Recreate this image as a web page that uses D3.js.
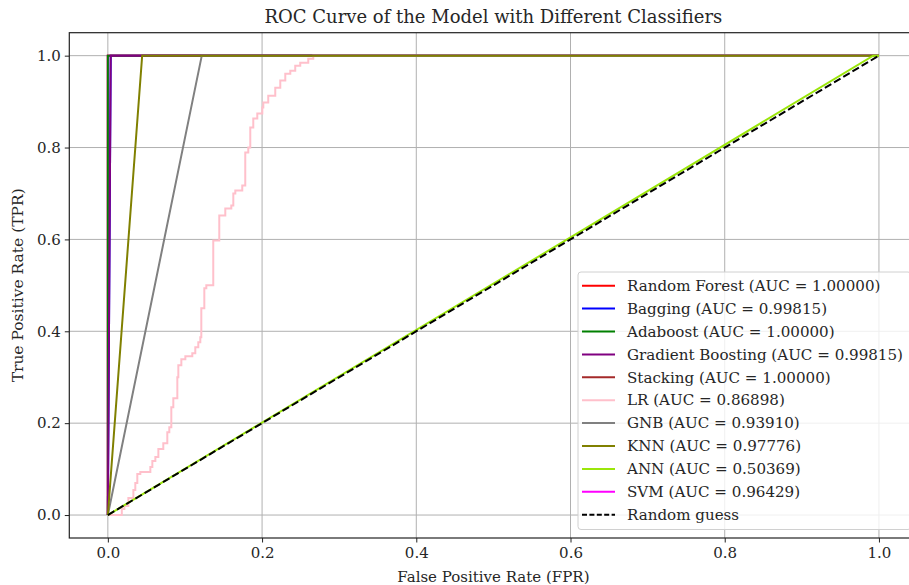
<!DOCTYPE html>
<html>
<head>
<meta charset="utf-8">
<script src="https://cdn.jsdelivr.net/npm/d3@7"></script>
<style>
  body { margin: 0; background: #fff; }
  text { font-family: "DejaVu Serif", serif; fill: #262626; }
</style>
</head>
<body>
<div id="chart"></div>
<script>
// Classifiers in legend order
const names = ["Random Forest", "Bagging", "Adaboost", "Gradient Boosting", "Stacking",
               "LR", "GNB", "KNN", "ANN", "SVM"];
const aucs = [1.00000, 0.99815, 1.00000, 0.99815, 1.00000, 0.86898, 0.93910, 0.97776, 0.50369, 0.96429];
const colors = ["red", "blue", "green", "purple", "brown", "pink", "gray", "olive", "#9be60a", "magenta"];

// ROC points [fpr, tpr]
const rfRoc = [[0, 0], [0, 1], [1, 1]];
const baggingRoc = [[0, 0], [0.0037, 1], [1, 1]];
const adaRoc = [[0, 0], [0, 1], [1, 1]];
const gbRoc = [[0, 0], [0.0037, 1], [1, 1]];
const stackRoc = [[0, 0], [0, 1], [1, 1]];
const gnbRoc = [[0, 0], [0.1218, 1], [1, 1]];
const knnRoc = [[0, 0], [0.0445, 1], [1, 1]];
const annRoc = [[0, 0], [0.9926, 1], [1, 1]];
const svmRoc = [[0, 0], [0, 1], [1, 1]];

// LR is a staircase: move right to fpr, then up to tpr
const lrFpr = [0, 0.0181, 0.0214, 0.0266, 0.0331, 0.0356, 0.0382, 0.0421, 0.0551, 0.0577, 0.0616,
  0.0655, 0.0719, 0.0771, 0.0797, 0.0823, 0.0849, 0.0901, 0.0914, 0.0953, 0.1005, 0.1095, 0.1134,
  0.1173, 0.1199, 0.1212, 0.1251, 0.1277, 0.1367, 0.1445, 0.1523, 0.1601, 0.1627, 0.1653, 0.1743,
  0.1782, 0.1821, 0.1847, 0.1886, 0.1938, 0.2003, 0.2016, 0.2080, 0.2171, 0.2236, 0.2301, 0.2366,
  0.2430, 0.2495, 0.2599, 0.2664, 1];
const lrTpr = [0, 0.0130, 0.0196, 0.0370, 0.0543, 0.0696, 0.0891, 0.0935, 0.1043, 0.1174, 0.1261,
  0.1435, 0.1565, 0.1804, 0.1913, 0.2348, 0.2543, 0.3000, 0.3261, 0.3391, 0.3457, 0.3522, 0.3652,
  0.3761, 0.3870, 0.4500, 0.4935, 0.5000, 0.5978, 0.6522, 0.6674, 0.6739, 0.7000, 0.7065, 0.7174,
  0.7891, 0.8000, 0.8435, 0.8630, 0.8739, 0.8870, 0.8978, 0.9130, 0.9304, 0.9457, 0.9609, 0.9674,
  0.9783, 0.9848, 0.9935, 1.0000, 1];
const lrRoc = lrFpr.map((f, i) => [f, lrTpr[i]]);

const rocs = [rfRoc, baggingRoc, adaRoc, gbRoc, stackRoc, lrRoc, gnbRoc, knnRoc, annRoc, svmRoc];
// Stacking and SVM sit underneath the others in the picture
const drawOrder = [0, 1, 4, 9, 2, 3, 5, 6, 7, 8];

const ticks = [0, 0.2, 0.4, 0.6, 0.8, 1.0];

// Dimensions
const width = 909;
const height = 585;
const pLeft = 69.3, pRight = 917.5, pTop = 32.7, pBottom = 538;

const svg = d3.select("#chart")
    .append("svg")
    .attr("width", width)
    .attr("height", height);

const x = d3.scaleLinear().domain([-0.05, 1.05]).range([pLeft, pRight]);
const y = d3.scaleLinear().domain([-0.05, 1.05]).range([pBottom, pTop]);

// Grid
const grid = svg.append("g").attr("stroke", "#b0b0b0").attr("stroke-width", 1);
grid.selectAll(".gx").data(ticks).enter().append("line")
    .attr("x1", d => x(d)).attr("x2", d => x(d))
    .attr("y1", pTop).attr("y2", pBottom);
grid.selectAll(".gy").data(ticks).enter().append("line")
    .attr("x1", pLeft).attr("x2", pRight)
    .attr("y1", d => y(d)).attr("y2", d => y(d));

svg.append("clipPath").attr("id", "plot")
    .append("rect").attr("x", pLeft).attr("y", pTop)
    .attr("width", pRight - pLeft).attr("height", pBottom - pTop);

// ROC curves
const line = d3.line().x(d => x(d[0])).y(d => y(d[1]));
const stepLine = d3.line().x(d => x(d[0])).y(d => y(d[1])).curve(d3.curveStepAfter);

const curves = svg.append("g").attr("clip-path", "url(#plot)");
drawOrder.forEach(i => {
    curves.append("path")
        .attr("d", names[i] === "LR" ? stepLine(rocs[i]) : line(rocs[i]))
        .attr("fill", "none")
        .attr("stroke", colors[i])
        .attr("stroke-width", 2);
});

// Random guess diagonal
curves.append("path")
    .attr("d", line([[0, 0], [1, 1]]))
    .attr("fill", "none")
    .attr("stroke", "black")
    .attr("stroke-width", 2)
    .attr("stroke-dasharray", "7.5,3.2");

// Axes
const xAxis = svg.append("g")
    .attr("transform", `translate(0,${pBottom})`)
    .call(d3.axisBottom(x).tickValues(ticks).tickFormat(d3.format(".1f")).tickSize(4.5).tickPadding(5));
const yAxis = svg.append("g")
    .attr("transform", `translate(${pLeft},0)`)
    .call(d3.axisLeft(y).tickValues(ticks).tickFormat(d3.format(".1f")).tickSize(4.5).tickPadding(4));

[xAxis, yAxis].forEach(a => {
    a.select(".domain").remove();
    a.selectAll("line").attr("stroke", "#222").attr("stroke-width", 1);
    a.selectAll("text").style("font-family", "DejaVu Serif").style("font-size", "15px").attr("fill", "#262626");
});

// Spines
svg.append("rect")
    .attr("x", pLeft).attr("y", pTop)
    .attr("width", pRight - pLeft).attr("height", pBottom - pTop)
    .attr("fill", "none").attr("stroke", "#222").attr("stroke-width", 1.2);

// Title and axis labels
svg.append("text")
    .attr("x", (pLeft + pRight) / 2).attr("y", 23)
    .attr("text-anchor", "middle").style("font-size", "18px")
    .text("ROC Curve of the Model with Different Classifiers");
svg.append("text")
    .attr("x", (pLeft + pRight) / 2).attr("y", 582)
    .attr("text-anchor", "middle").style("font-size", "15px")
    .text("False Positive Rate (FPR)");
svg.append("text")
    .attr("transform", `translate(23,${(pTop + pBottom) / 2}) rotate(-90)`)
    .attr("text-anchor", "middle").style("font-size", "15.5px")
    .text("True Positive Rate (TPR)");

// Legend
const legendItems = names.map((n, i) => ({
    label: `${n} (AUC = ${aucs[i].toFixed(5)})`, color: colors[i], dash: null
}));
legendItems.push({ label: "Random guess", color: "black", dash: "5,2.4" });

const lx = 578, ly = 272, lw = 333, lh = 257.5, rowH = 22.9;
const legend = svg.append("g");
legend.append("rect")
    .attr("x", lx).attr("y", ly).attr("width", lw).attr("height", lh)
    .attr("rx", 3)
    .attr("fill", "white").attr("fill-opacity", 0.8)
    .attr("stroke", "#d0d0d0").attr("stroke-width", 1);

const rows = legend.selectAll(".row").data(legendItems).enter().append("g")
    .attr("transform", (d, i) => `translate(${lx},${ly + 13.7 + i * rowH})`);
rows.append("line")
    .attr("x1", 4).attr("x2", 37)
    .attr("stroke", d => d.color).attr("stroke-width", 2)
    .attr("stroke-dasharray", d => d.dash);
rows.append("text")
    .attr("x", 49).attr("dy", "0.35em")
    .style("font-size", "15.1px")
    .text(d => d.label);
</script>
</body>
</html>
